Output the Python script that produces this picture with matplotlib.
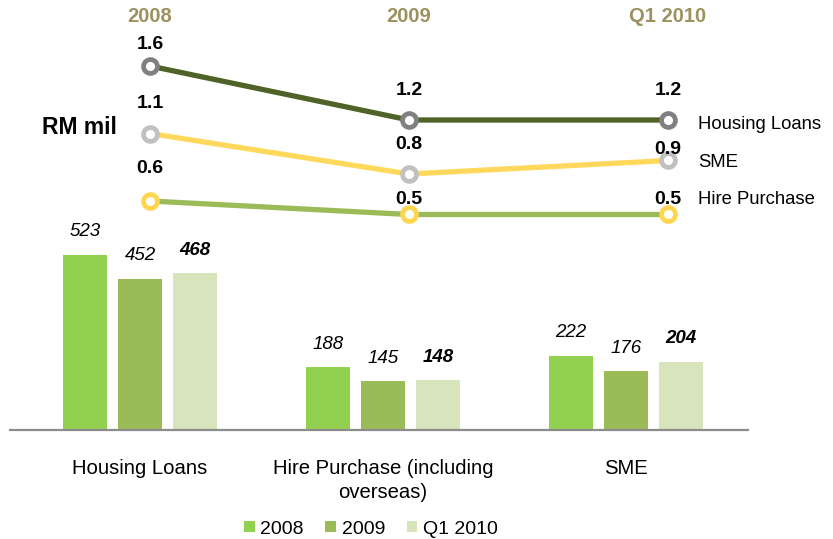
import matplotlib
matplotlib.use("Agg")
import matplotlib.pyplot as plt
from matplotlib.transforms import blended_transform_factory

plt.rcParams['font.family'] = ['Liberation Sans', 'DejaVu Sans']

# data
categories = ["Housing Loans", "Hire Purchase (including\noverseas)", "SME"]
periods = ["2008", "2009", "Q1 2010"]
bars_2008 = [523, 188, 222]
bars_2009 = [452, 145, 176]
bars_q1_2010 = [468, 148, 204]

line_names = ["Housing Loans", "SME", "Hire Purchase"]
housing_line = [1.6, 1.2, 1.2]
sme_line = [1.1, 0.8, 0.9]
hire_line = [0.6, 0.5, 0.5]

bar_colors = ["#92d050", "#9bbb59", "#d7e4bc"]
px = 72 / 100  # pixels -> points

fig = plt.figure(figsize=(8.33, 5.39), dpi=100)

# bar chart
ax = fig.add_axes([10 / 833, 109 / 539, 738 / 833, 200 / 539])
ax.set_xlim(-0.535, 2.502)
ax.set_ylim(0, 597.7)
offsets = [-0.226, 0, 0.226]
series = [bars_2008, bars_2009, bars_q1_2010]
for k, (vals, col, lab) in enumerate(zip(series, bar_colors, periods)):
    xs = [i + offsets[k] for i in range(len(categories))]
    ax.bar(xs, vals, width=0.181, color=col, label=lab)
    for x, v in zip(xs, vals):
        ax.annotate(str(v), (x, v), xytext=(0, 23 * px), textcoords="offset points",
                    ha="center", va="center", fontsize=13.5, style="italic",
                    fontweight="bold" if k == 2 else "normal")
for s in ["top", "right", "left"]:
    ax.spines[s].set_visible(False)
ax.spines["bottom"].set_color("#8c8c8c")
ax.spines["bottom"].set_linewidth(1.6)
ax.set_yticks([])
ax.set_xticks(range(len(categories)))
ax.set_xticklabels(categories, fontsize=14.6, linespacing=1.3)
ax.tick_params(axis="x", length=0, pad=21)

fig.legend(loc="center", bbox_to_anchor=(371 / 833, 1 - 529 / 539), ncol=3,
           frameon=False, fontsize=14, handlelength=0.55, handleheight=0.55,
           handletextpad=0.3, columnspacing=1.1)

# line chart overlay
lx = fig.add_axes([0, 0, 1, 1])
lx.set_xlim(-0.579, 2.637)
lx.set_ylim(-1.904, 2.089)
lx.axis("off")
lx.patch.set_alpha(0)

lines = [housing_line, sme_line, hire_line]
line_colors = ["#4f6228", "#ffd85c", "#9bbb59"]
marker_edges = ["#808080", "#c0c0c0", "#ffd54f"]
label_up = [[22, 30, 30], [30, 29, 11], [32, 15, 15]]
name_dy = [-4, -2, 14.5]
xs = list(range(len(periods)))
for vals, lc, me, ups, dy, name in zip(lines, line_colors, marker_edges, label_up, name_dy, line_names):
    lx.plot(xs, vals, color=lc, lw=3.8, marker="o", markersize=10,
            markerfacecolor="white", markeredgecolor=me, markeredgewidth=3.4)
    for x, v, u in zip(xs, vals, ups):
        lx.annotate(f"{v:.1f}", (x, v), xytext=(0, u * px), textcoords="offset points",
                    ha="center", va="center", fontsize=14, fontweight="bold")
    lx.annotate(name, (xs[-1], vals[-1]), xytext=(30 * px, dy * px),
                textcoords="offset points", ha="left", va="center", fontsize=13.3)

tr = blended_transform_factory(lx.transData, lx.transAxes)
for x, p in zip(xs, periods):
    lx.text(x, 1 - 17 / 539, p, transform=tr, ha="center", va="center",
            fontsize=14.5, fontweight="bold", color="#9c9260")

fig.text(42 / 833, 1 - 128 / 539, "RM mil", ha="left", va="center",
         fontsize=16.5, fontweight="bold")

fig.savefig("out.png", dpi=100)
